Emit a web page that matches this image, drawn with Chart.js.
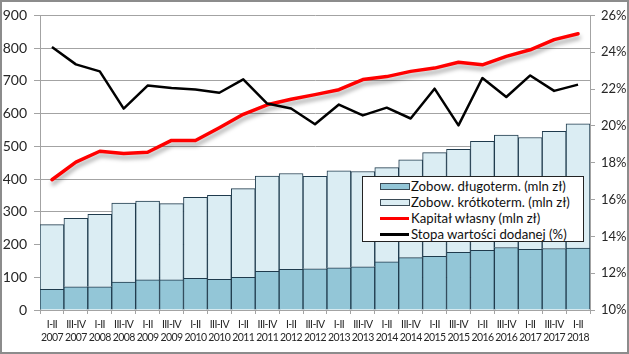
<!DOCTYPE html>
<html>
<head>
<meta charset="utf-8">
<script src="https://cdn.jsdelivr.net/npm/chart.js@4/dist/chart.umd.min.js"></script>
<style>
  html, body { margin: 0; padding: 0; background: #fff; }
  #wrap { position: relative; width: 629px; height: 354px; overflow: hidden; }
  canvas { position: absolute; left: 0; top: 0; }
  #legend {
    position: absolute; left: 362px; top: 176px; width: 220px; height: 64px;
    background: #fff; border: 1px solid #222; font-family: Lato, sans-serif;
    font-size: 13.2px; color: #111; box-sizing: content-box;
  }
  .li { position: absolute; left: 17px; height: 16px; line-height: 16px; white-space: nowrap; }
  .sym { position: absolute; left: 0; width: 28px; }
  .txt { position: absolute; left: 31px; top: 0; }
  #border { position: absolute; left: 0; top: 0; width: 629px; height: 354px; box-sizing: border-box; border: 2px solid #8c8c8c; pointer-events: none; }
</style>
</head>
<body>
<div id="wrap">
  <canvas id="c" width="629" height="354"></canvas>
  <div id="legend"></div>
  <div id="border"></div>
</div>
<script>
const periods = ['I-II','III-IV','I-II','III-IV','I-II','III-IV','I-II','III-IV','I-II','III-IV','I-II','III-IV','I-II','III-IV','I-II','III-IV','I-II','III-IV','I-II','III-IV','I-II','III-IV','I-II'];
const years = ['2007','2007','2008','2008','2009','2009','2010','2010','2011','2011','2012','2012','2013','2013','2014','2014','2015','2015','2016','2016','2017','2017','2018'];

const longTerm = [63,71,71,85,92,92,97,94,100,118,124,126,129,132,147,160,164,176,182,191,185,188,189];
const shortTerm = [198,209,221,242,241,233,247,256,271,291,293,282,296,291,288,299,317,315,333,343,342,358,380];
const equity = [398,452,485,478,482,518,518,557,598,627,644,658,673,704,713,729,739,757,749,775,795,826,844];
const valueAddedRate = [24.28,23.34,22.96,20.94,22.19,22.06,21.97,21.8,22.53,21.21,20.94,20.09,21.16,20.57,20.99,20.4,22.02,20.03,22.6,21.57,22.74,21.9,22.24];

const leftTicks = [0,100,200,300,400,500,600,700,800,900];
const rightTicks = [10,12,14,16,18,20,22,24,26];

const labels = periods.map((p, i) => [p, years[i]]);

const GRID = '#a3a3a3';
const TXT = '#262626';

const shadowPlugin = {
  id: 'shadow',
  beforeDatasetDraw(chart, args) {
    if (chart.data.datasets[args.index].shadow) {
      const ctx = chart.ctx;
      ctx.save();
      ctx.shadowColor = 'rgba(0,0,0,0.35)';
      ctx.shadowBlur = 4;
      ctx.shadowOffsetX = 1;
      ctx.shadowOffsetY = 4;
    }
  },
  afterDatasetDraw(chart, args) {
    if (chart.data.datasets[args.index].shadow) chart.ctx.restore();
  }
};

// tighten letter spacing of the category labels (narrow font in the original)
const narrowXPlugin = {
  id: 'narrowX',
  beforeDraw(chart) {
    const x = chart.scales.x;
    if (!x._narrowWrapped) {
      const orig = x.drawLabels.bind(x);
      x._narrowWrapped = true;
      x.drawLabels = function (area) {
        const ctx = this.ctx;
        const prev = ctx.letterSpacing;
        ctx.letterSpacing = '-0.6px';
        orig(area);
        ctx.letterSpacing = prev || '0px';
      };
    }
  }
};

const chart = new Chart(document.getElementById('c'), {
  data: {
    labels: labels,
    datasets: [
      { type: 'bar', label: 'Zobow. długoterm. (mln zł)', data: longTerm, yAxisID: 'y', stack: 'bars',
        backgroundColor: '#93c6d7', borderColor: '#1f3b4d', borderWidth: 1, order: 2,
        categoryPercentage: 1, barPercentage: 1 },
      { type: 'bar', label: 'Zobow. krótkoterm. (mln zł)', data: shortTerm, yAxisID: 'y', stack: 'bars',
        backgroundColor: '#dbedf3', borderColor: '#1f3b4d', borderWidth: 1, order: 2,
        categoryPercentage: 1, barPercentage: 1 },
      { type: 'line', label: 'Kapitał własny (mln zł)', data: equity, yAxisID: 'y', stack: 'eq',
        borderColor: '#ff0000', backgroundColor: '#ff0000', borderWidth: 3.5, pointRadius: 0,
        tension: 0, order: 1, shadow: true, borderJoinStyle: 'round', borderCapStyle: 'round' },
      { type: 'line', label: 'Stopa wartości dodanej (%)', data: valueAddedRate, yAxisID: 'y1',
        borderColor: '#000000', backgroundColor: '#000000', borderWidth: 2.5, pointRadius: 0,
        tension: 0, order: 0, borderJoinStyle: 'round' }
    ]
  },
  options: {
    responsive: false,
    animation: false,
    layout: { padding: { top: 15, left: 0, right: 0, bottom: 0 } },
    plugins: { legend: { display: false }, tooltip: { enabled: false } },
    scales: {
      x: {
        stacked: true,
        offset: true,
        grid: { display: true, offset: true, drawOnChartArea: false, drawTicks: true, tickLength: 4, color: GRID },
        border: { display: true, color: GRID },
        ticks: { autoSkip: false, maxRotation: 0, minRotation: 0, padding: 4, color: TXT,
          font: { family: 'Lato, sans-serif', size: 10.5, lineHeight: 1.25 } },
        afterFit(s) { s.height = 44; }
      },
      y: {
        stacked: true,
        position: 'left',
        min: 0, max: 900,
        afterBuildTicks(s) { s.ticks = leftTicks.map(v => ({ value: v })); },
        grid: { color: GRID, tickLength: 6, drawTicks: true },
        border: { display: true, color: GRID },
        ticks: { padding: 7, color: TXT, font: { family: 'Lato, sans-serif', size: 14 } },
        afterFit(s) { s.width = 40; }
      },
      y1: {
        position: 'right',
        min: 10, max: 26,
        afterBuildTicks(s) { s.ticks = rightTicks.map(v => ({ value: v })); },
        grid: { drawOnChartArea: false, color: GRID, tickLength: 5, drawTicks: true },
        border: { display: true, color: GRID },
        ticks: { padding: 6, color: TXT, font: { family: 'Lato, sans-serif', size: 13 },
          callback: v => v + '%' },
        afterFit(s) { s.width = 39; }
      }
    }
  },
  plugins: [shadowPlugin, narrowXPlugin]
});

// HTML legend built from dataset definitions
const leg = document.getElementById('legend');
chart.data.datasets.forEach((ds, i) => {
  const row = document.createElement('div');
  row.className = 'li';
  row.style.top = (1 + i * 16) + 'px';
  const sym = document.createElement('div');
  sym.className = 'sym';
  if (ds.type === 'bar') {
    sym.style.top = '5px'; sym.style.height = '5px';
    sym.style.background = ds.backgroundColor;
    sym.style.border = '1px solid #3a4a55';
  } else {
    sym.style.top = '7px'; sym.style.height = '3px';
    sym.style.background = ds.borderColor;
    sym.style.width = '29px';
  }
  const t = document.createElement('span');
  t.className = 'txt';
  t.textContent = ds.label;
  row.appendChild(sym); row.appendChild(t);
  leg.appendChild(row);
});
</script>
</body>
</html>
